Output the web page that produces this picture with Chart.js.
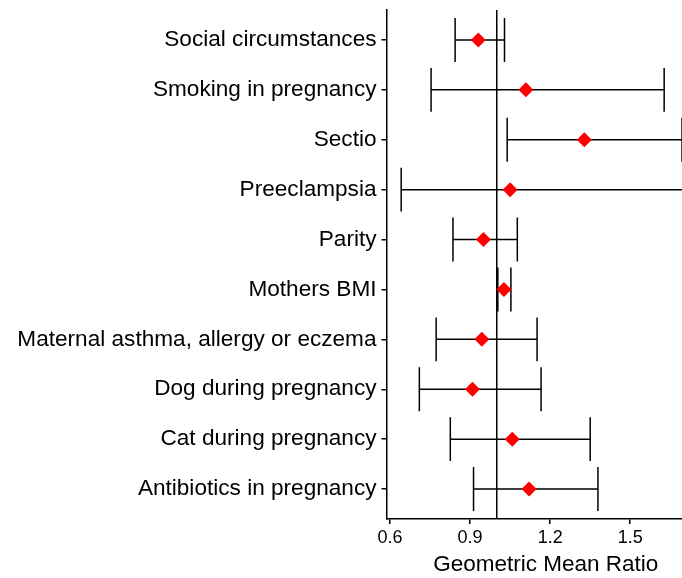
<!DOCTYPE html>
<html>
<head>
<meta charset="utf-8">
<script src="https://cdn.jsdelivr.net/npm/chart.js@4.4.1/dist/chart.umd.min.js"></script>
<style>
  html, body { margin: 0; padding: 0; background: #fff; overflow: hidden; }
  /* the original figure is cropped on the right: panel runs past the window edge */
  #wrap { width: 682px; height: 578px; overflow: hidden; }
</style>
</head>
<body>
<div id="wrap"><canvas id="forest" width="705" height="578"></canvas></div>
<script>
// values (top row first)
const categories = [
    'Social circumstances',
    'Smoking in pregnancy',
    'Sectio',
    'Preeclampsia',
    'Parity',
    'Mothers BMI',
    'Maternal asthma, allergy or eczema',
    'Dog during pregnancy',
    'Cat during pregnancy',
    'Antibiotics in pregnancy'
];
const estimates = [0.931, 1.109, 1.328, 1.050, 0.950, 1.027, 0.944, 0.909, 1.058, 1.121];
const lowerCI   = [0.844, 0.754, 1.039, 0.642, 0.836, 1.004, 0.773, 0.710, 0.826, 0.913];
const upperCI   = [1.029, 1.627, 1.694, 1.900, 1.077, 1.053, 1.151, 1.166, 1.350, 1.379];
const xTicks = [0.6, 0.9, 1.2, 1.5];
const refValue = 1.0;

const FONT = 'Liberation Sans, Arial, sans-serif';

// horizontal CI lines + end caps, drawn below the diamonds
const errorBars = {
    id: 'errorBars',
    beforeDatasetsDraw(chart) {
        const { ctx, chartArea, scales: { x, y } } = chart;
        ctx.save();
        ctx.beginPath();
        ctx.rect(chartArea.left, chartArea.top, chartArea.right - chartArea.left, chartArea.bottom - chartArea.top);
        ctx.clip();
        ctx.strokeStyle = '#000';
        ctx.lineWidth = 1.5;
        categories.forEach((c, i) => {
            const yc = y.getPixelForValue(i + 1);
            const yt = y.getPixelForValue(i + 1 - 0.44);
            const yb = y.getPixelForValue(i + 1 + 0.44);
            const x1 = x.getPixelForValue(lowerCI[i]);
            const x2 = x.getPixelForValue(upperCI[i]);
            ctx.beginPath();
            ctx.moveTo(x1, yc); ctx.lineTo(x2, yc);
            ctx.moveTo(x1, yt); ctx.lineTo(x1, yb);
            ctx.moveTo(x2, yt); ctx.lineTo(x2, yb);
            ctx.stroke();
        });
        ctx.restore();
    }
};

const chart = new Chart(document.getElementById('forest'), {
    type: 'scatter',
    data: {
        datasets: [
            {
                type: 'line',
                data: [{ x: refValue, y: 0.4 }, { x: refValue, y: 10.6 }],
                borderColor: '#000',
                borderWidth: 1.5,
                pointRadius: 0,
                order: 2
            },
            {
                data: estimates.map((v, i) => ({ x: v, y: i + 1 })),
                pointStyle: 'rectRot',
                pointRadius: 7.5,
                backgroundColor: '#ff0000',
                borderColor: '#ff0000',
                borderWidth: 0,
                order: 1
            }
        ]
    },
    options: {
        responsive: false,
        animation: false,
        layout: { autoPadding: false, padding: { top: 10, right: 0, bottom: 0, left: 0 } },
        plugins: {
            legend: { display: false },
            tooltip: { enabled: false }
        },
        scales: {
            x: {
                type: 'linear',
                min: 0.587,
                max: 1.78,
                afterBuildTicks: s => { s.ticks = xTicks.map(v => ({ value: v })); },
                afterFit: s => { s.height = 59; s.paddingLeft = 0; s.paddingRight = 0; },
                grid: { drawOnChartArea: false, color: '#000', tickLength: 5, lineWidth: 1.5 },
                border: { color: '#000', width: 1.5 },
                ticks: {
                    color: '#000',
                    font: { family: FONT, size: 18 },
                    padding: 3,
                    maxRotation: 0,
                    callback: v => v.toFixed(1)
                },
                title: {
                    display: true,
                    text: 'Geometric Mean Ratio',
                    color: '#000',
                    font: { family: FONT, size: 22.5 },
                    padding: { top: 0, bottom: 0 }
                }
            },
            y: {
                type: 'linear',
                reverse: true,
                min: 0.4,
                max: 10.6,
                afterBuildTicks: s => { s.ticks = categories.map((c, i) => ({ value: i + 1 })); },
                afterFit: s => { s.width = 386.5; s.paddingTop = 0; s.paddingBottom = 0; },
                grid: { drawOnChartArea: false, color: '#000', tickLength: 5, lineWidth: 1.5 },
                border: { color: '#000', width: 1.5 },
                ticks: {
                    color: '#000',
                    font: { family: FONT, size: 22.6 },
                    padding: 5,
                    callback: v => categories[v - 1]
                }
            }
        }
    },
    plugins: [errorBars]
});
</script>
</body>
</html>
